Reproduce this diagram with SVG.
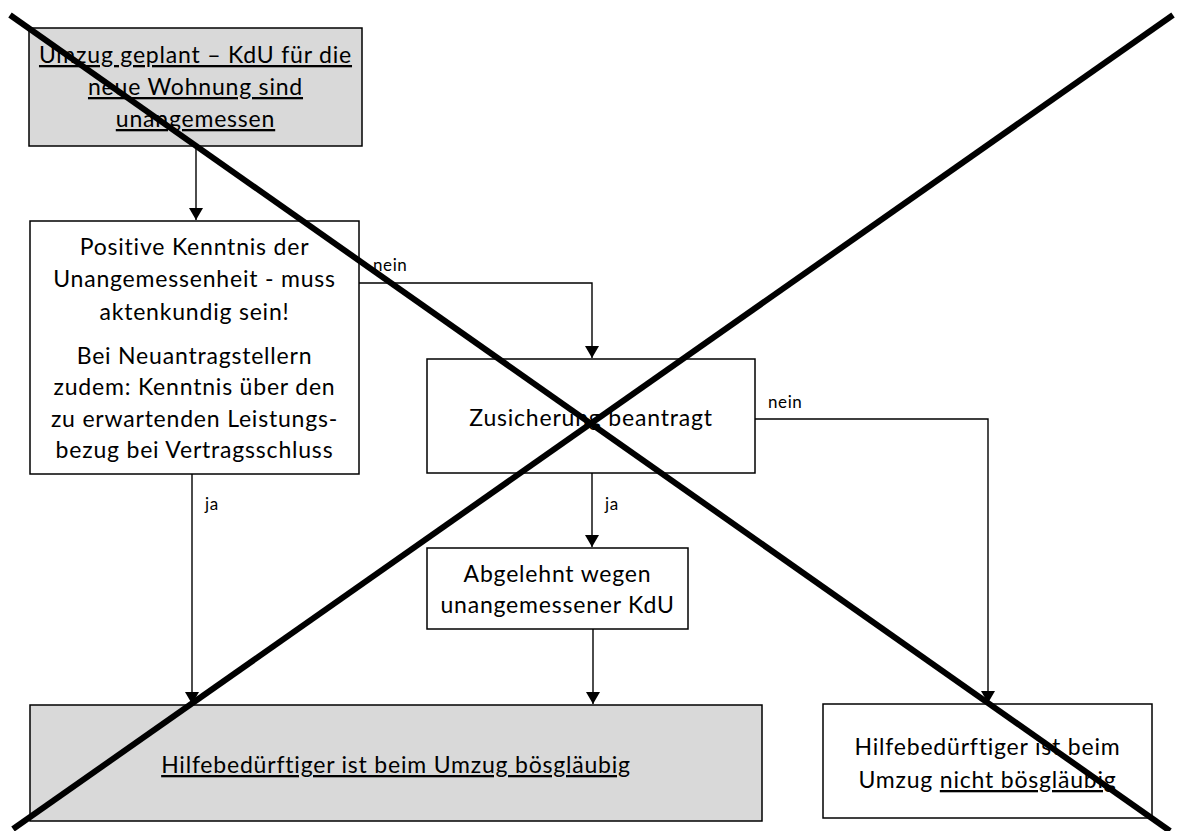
<svg xmlns="http://www.w3.org/2000/svg" width="1178" height="831" viewBox="0 0 1178 831">
<style>
.box{fill:#fff;stroke:#000;stroke-width:1.5}
.gray{fill:#d9d9d9;stroke:#000;stroke-width:1.5}
text{font-family:Lato,"Liberation Sans",sans-serif;fill:#000}
.t{font-size:23px;letter-spacing:0.8px;text-anchor:middle}
.u{text-decoration:underline}
.lbl{font-size:17px;letter-spacing:0.6px}
.c{fill:none;stroke:#000;stroke-width:1.4}
.x{stroke:#000;stroke-width:6;stroke-linecap:butt}
</style>
<defs>
<marker id="ah" viewBox="0 0 12 14" refX="12" refY="7" markerWidth="12" markerHeight="14" markerUnits="userSpaceOnUse" orient="auto">
<path d="M0,0 L12,7 L0,14 Z" fill="#000"/>
</marker>
</defs>
<rect width="1178" height="831" fill="#fff"/>
<g id="connectors">
<path class="c" d="M196,146 V220" marker-end="url(#ah)"/>
<path class="c" d="M359,283 H592 V358" marker-end="url(#ah)"/>
<path class="c" d="M755,419 H988 V703" marker-end="url(#ah)"/>
<path class="c" d="M592,473 V547" marker-end="url(#ah)"/>
<path class="c" d="M192,474 V704" marker-end="url(#ah)"/>
<path class="c" d="M593,629 V704" marker-end="url(#ah)"/>
<text class="lbl" x="373" y="271">nein</text>
<text class="lbl" x="768" y="408">nein</text>
<text class="lbl" x="205" y="510">ja</text>
<text class="lbl" x="605" y="510">ja</text>
</g>
<g id="n1">
<rect class="gray" x="29" y="28" width="333" height="118"/>
<text class="t u" x="195.5" y="63">Umzug geplant – KdU für die</text>
<text class="t u" x="195.5" y="95">neue Wohnung sind</text>
<text class="t u" x="195.5" y="127">unangemessen</text>
</g>
<g id="n2">
<rect class="box" x="30" y="221" width="329" height="253"/>
<text class="t" x="194.5" y="255">Positive Kenntnis der</text>
<text class="t" x="194.5" y="287">Unangemessenheit - muss</text>
<text class="t" x="194.5" y="320">aktenkundig sein!</text>
<text class="t" x="194.5" y="364">Bei Neuantragstellern</text>
<text class="t" x="194.5" y="395">zudem: Kenntnis über den</text>
<text class="t" x="194.5" y="427">zu erwartenden Leistungs-</text>
<text class="t" x="194.5" y="458">bezug bei Vertragsschluss</text>
</g>
<g id="n3">
<rect class="box" x="427" y="359" width="328" height="114"/>
<text class="t" x="591" y="426">Zusicherung beantragt</text>
</g>
<g id="n4">
<rect class="box" x="427" y="548" width="261" height="81"/>
<text class="t" x="557.5" y="582">Abgelehnt wegen</text>
<text class="t" x="557.5" y="613">unangemessener KdU</text>
</g>
<g id="n5">
<rect class="gray" x="30" y="705" width="732" height="116"/>
<text class="t u" x="396" y="773">Hilfebedürftiger ist beim Umzug bösgläubig</text>
</g>
<g id="n6">
<rect class="box" x="823" y="704" width="329" height="114"/>
<text class="t" x="987.5" y="755">Hilfebedürftiger ist beim</text>
<text class="t" x="987.5" y="788">Umzug <tspan class="u">nicht bösgläubig</tspan></text>
</g>
<g id="cross">
<line class="x" x1="10" y1="15" x2="1170" y2="831"/>
<line class="x" x1="1173" y1="15" x2="13" y2="829"/>
</g>
</svg>
